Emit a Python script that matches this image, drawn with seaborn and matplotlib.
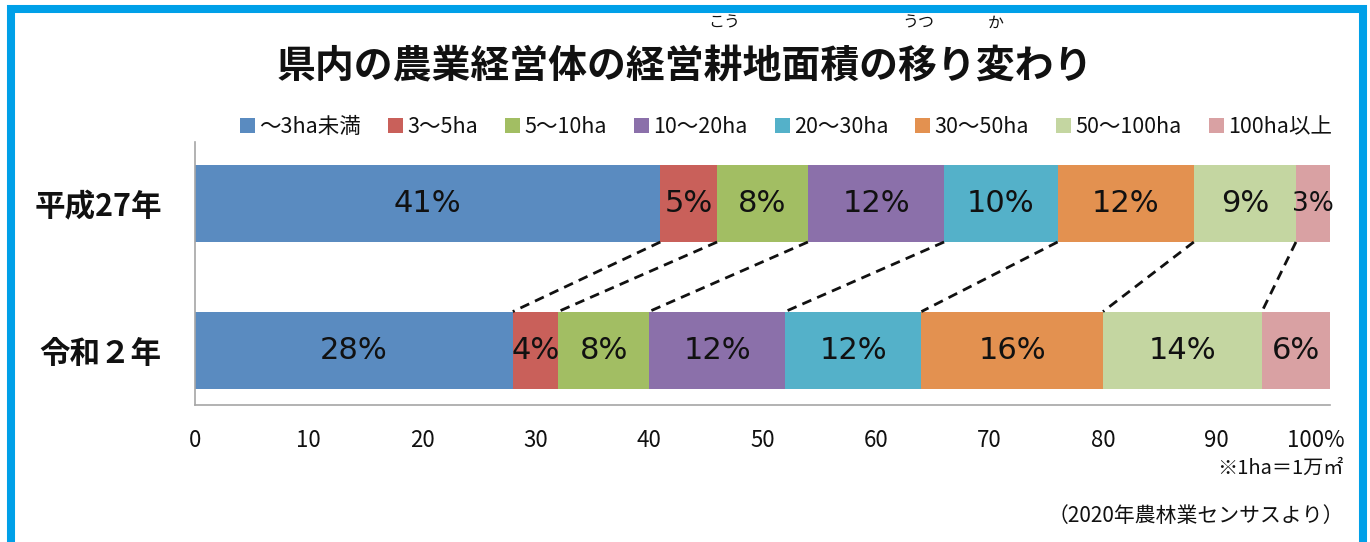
import matplotlib
matplotlib.use("Agg")
import matplotlib.pyplot as plt
from matplotlib.patches import Patch, Rectangle
from matplotlib.transforms import ScaledTranslation
import numpy as np
import pandas as pd
import seaborn as sns

# ---- data -------------------------------------------------------------
years = ["平成27年", "令和２年"]
classes = ["～3ha未満", "3～5ha", "5～10ha", "10～20ha",
           "20～30ha", "30～50ha", "50～100ha", "100ha以上"]
share_h27 = [41, 5, 8, 12, 10, 12, 9, 3]
share_r2 = [28, 4, 8, 12, 12, 16, 14, 6]
colors = ["#5A8BC0", "#C9605A", "#A2BE63", "#8B70AA",
          "#54B1C9", "#E39150", "#C4D6A1", "#D9A1A3"]
xticks = [0, 10, 20, 30, 40, 50, 60, 70, 80, 90, 100]
xtick_labels = ["0", "10", "20", "30", "40", "50", "60", "70", "80", "90", "100%"]

title = "県内の農業経営体の経営耕地面積の移り変わり"
ruby = [(11, "こう"), (16, "うつ"), (18, "か")]
note_unit = "※1ha＝1万㎡"
note_source = "（2020年農林業センサスより）"

# ---- style ------------------------------------------------------------
sns.set_theme(style="white")
plt.rcParams["font.family"] = ["Noto Sans CJK JP", "DejaVu Sans"]
plt.rcParams["text.color"] = "#111111"

W, H = 1370, 542
fig = plt.figure(figsize=(W / 100, H / 100), dpi=100)
fig.patch.set_facecolor("white")
ax = fig.add_axes([195 / W, 1 - 405 / H, (1330 - 195) / W, (405 - 142) / H])

df = pd.DataFrame({
    "year": np.repeat(years, len(classes)),
    "cls": classes * len(years),
    "share": share_h27 + share_r2,
})
df["cum"] = df.groupby("year", sort=False)["share"].cumsum()

bar_w = 0.525
# stacked bars: draw cumulative totals from the outermost class inward
for cls, col in reversed(list(zip(classes, colors))):
    sub = df[df["cls"] == cls]
    sns.barplot(data=sub, x="cum", y="year", order=years, orient="h",
                color=col, saturation=1, width=bar_w, linewidth=0,
                errorbar=None, ax=ax)

# value labels in the middle of each segment
for _, row in df.iterrows():
    yi = years.index(row["year"])
    xc = row["cum"] - row["share"] / 2
    if row["share"] <= 3:
        ax.text(xc, yi, f"{row['share']}%", ha="center", va="center",
                fontsize=19, family=["Liberation Sans Narrow", "DejaVu Sans"],
                color="#111111")
    else:
        ax.text(xc, yi, f"{row['share']}%", ha="center", va="center",
                fontsize=22, family=["DejaVu Sans"], color="#111111")

# dashed connectors between matching class boundaries
cum_top = df[df["year"] == years[0]]["cum"].to_numpy()
cum_bot = df[df["year"] == years[1]]["cum"].to_numpy()
for a, b in zip(cum_top[:-1], cum_bot[:-1]):
    ax.plot([a, b], [0 + bar_w / 2, 1 - bar_w / 2], color="#111111",
            lw=2, linestyle=(0, (3.5, 2.3)), zorder=5)

# ---- axes -------------------------------------------------------------
ax.set_xlim(0, 100)
ax.set_ylim(1.375, -0.42)
ax.set_xlabel("")
ax.set_ylabel("")
ax.set_xticks(xticks, xtick_labels)
ax.set_yticks([-0.42, 0.454, 1.375], ["", "", ""])
ax.set_yticks([0, 1], years, minor=True)
for s in ["top", "right"]:
    ax.spines[s].set_visible(False)
for s in ["left", "bottom"]:
    ax.spines[s].set_color("#A6A6A6")
    ax.spines[s].set_linewidth(1.2)
ax.tick_params(axis="x", direction="out", length=7, width=1, color="#A6A6A6",
               labelsize=16, pad=10, labelcolor="#111111")
ax.tick_params(axis="y", which="major", direction="out", length=9, width=1,
               color="#A6A6A6")
ax.tick_params(axis="y", which="minor", length=0, labelsize=22, pad=24,
               labelcolor="#111111")
for lab in ax.get_yticklabels(minor=True):
    lab.set_fontweight("bold")
last = ax.get_xticklabels()[-1]
last.set_transform(last.get_transform() + ScaledTranslation(-0.14, 0, fig.dpi_scale_trans))

# ---- legend -----------------------------------------------------------
handles = [Patch(facecolor=c, edgecolor="none") for c in colors]
fig.legend(handles, classes, loc="center", bbox_to_anchor=(786 / W, 1 - 127 / H),
           ncol=len(classes), frameon=False, fontsize=15.5, handlelength=0.7,
           handleheight=0.7, handletextpad=0.2, columnspacing=1.25, borderpad=0)

# ---- title with ruby --------------------------------------------------
t = fig.text(0.5, 1 - 66 / H, title, ha="center", va="center",
             fontsize=28, fontweight="bold", color="#111111")
fig.canvas.draw()
bb = t.get_window_extent()
cw = bb.width / len(title)
for idx, kana in ruby:
    xc = bb.x0 + (idx + 0.5) * cw
    fig.text(xc / W, 1 - 23 / H, kana, ha="center", va="center",
             fontsize=11.5, color="#111111")

# ---- notes ------------------------------------------------------------
fig.text(1344 / W, 1 - 468 / H, note_unit, ha="right", va="center", fontsize=14.5)
fig.text(1344 / W, 1 - 516 / H, note_source, ha="right", va="center", fontsize=15)

# ---- frame ------------------------------------------------------------
fig.patches.append(Rectangle((10.5 / W, -3 / H), (1363 - 10.5) / W, (545 - 9) / H,
                             transform=fig.transFigure, fill=False,
                             edgecolor="#00A0E8", linewidth=5.8))

fig.savefig("out.png", dpi=100)
